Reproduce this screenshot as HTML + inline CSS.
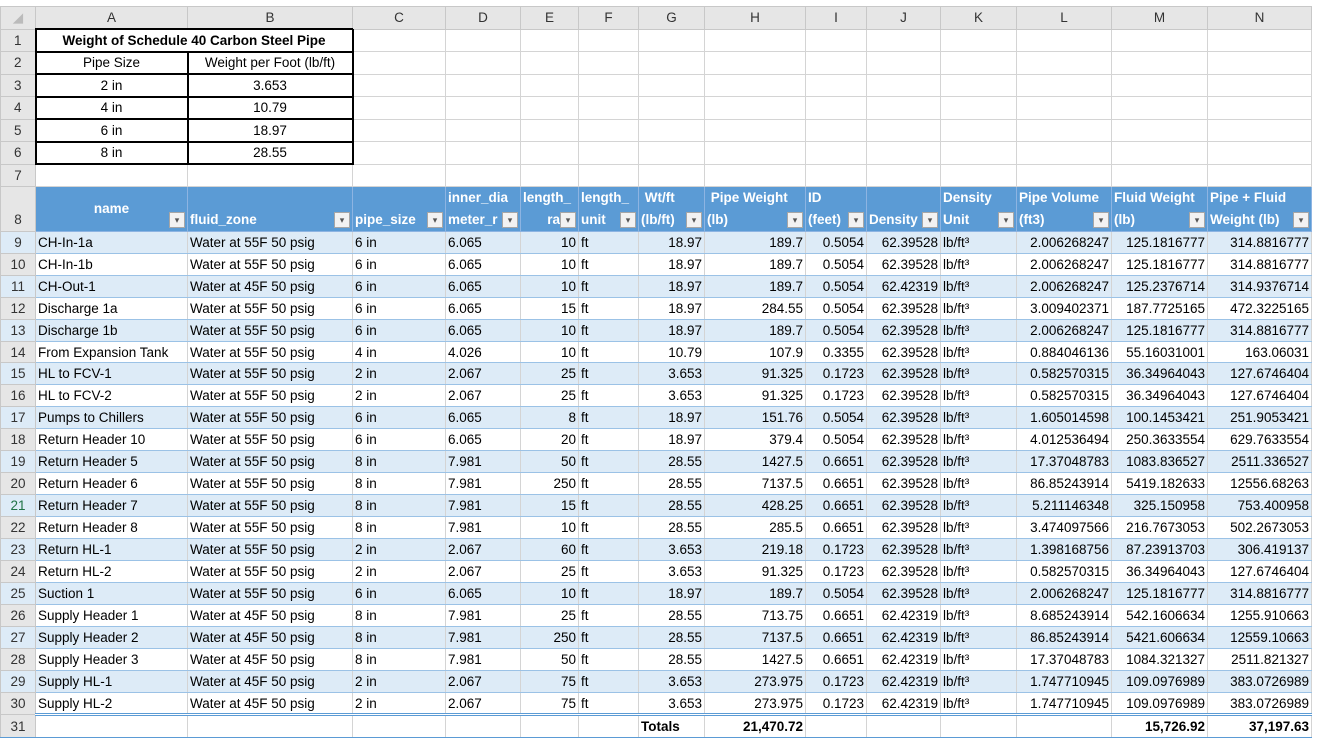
<!DOCTYPE html>
<html><head><meta charset="utf-8"><style>
body{margin:0;background:#fff;width:1317px;height:745px;overflow:hidden;font-family:"Liberation Sans",sans-serif;font-size:13.5px;color:#000}
table{border-collapse:collapse;table-layout:fixed;position:absolute;left:0;top:6px}
td{padding:0 2px;height:20.85px;border:1px solid #d4d4d4;white-space:nowrap;overflow:hidden;position:relative}
tr.d td,tr.tot td{height:20.94px}
tr.h td{background:#e6e6e6;color:#333;text-align:center;height:21px;border-color:#c8c8c8}
td.rn{background:#e6e6e6;color:#333;text-align:center;border-color:#c8c8c8}
.t td.k{border:2px solid #000;text-align:center}
tr.t td{height:20.5px}
tr.b td{background:#ddebf7}
tr.d td{border-bottom:1px solid #9bc2e6;border-top:1px solid #9bc2e6}
tr.d td.rn{border-color:#c8c8c8}
.r{text-align:right}
tr.hd td{background:#5b9bd5;color:#fff;font-weight:bold;height:44px;vertical-align:bottom;line-height:22px;border-color:#8db4e2}
tr.hd td.rn{background:#e6e6e6;color:#333;font-weight:normal;border-color:#c8c8c8}
.f{position:absolute;right:2px;bottom:3px;width:14px;height:14px;background:#f2f2f2;border:1px solid #a6a6a6;color:#555;font-size:9px;line-height:14px;text-align:center;font-weight:normal}
tr.tot td{font-weight:bold;border-top:3px double #5b9bd5;border-bottom:1px solid #5b9bd5}
tr.tot td.rn{font-weight:normal;border-top:1px solid #c8c8c8}
</style></head><body>
<table>
<colgroup><col style="width:35px"><col style="width:152px"><col style="width:165px"><col style="width:93px"><col style="width:75px"><col style="width:58px"><col style="width:60px"><col style="width:66px"><col style="width:101px"><col style="width:61px"><col style="width:74px"><col style="width:76px"><col style="width:95px"><col style="width:96px"><col style="width:104px"></colgroup>
<tr class="h"><td style="color:#bbb">◢</td><td>A</td><td>B</td><td>C</td><td>D</td><td>E</td><td>F</td><td>G</td><td>H</td><td>I</td><td>J</td><td>K</td><td>L</td><td>M</td><td>N</td></tr>
<tr class="t"><td class="rn">1</td><td class="k" colspan="2" style="font-weight:bold">Weight of Schedule 40 Carbon Steel Pipe</td><td></td><td></td><td></td><td></td><td></td><td></td><td></td><td></td><td></td><td></td><td></td><td></td></tr>
<tr class="t"><td class="rn">2</td><td class="k">Pipe Size</td><td class="k">Weight per Foot (lb/ft)</td><td></td><td></td><td></td><td></td><td></td><td></td><td></td><td></td><td></td><td></td><td></td><td></td></tr>
<tr class="t"><td class="rn">3</td><td class="k">2 in</td><td class="k">3.653</td><td></td><td></td><td></td><td></td><td></td><td></td><td></td><td></td><td></td><td></td><td></td><td></td></tr>
<tr class="t"><td class="rn">4</td><td class="k">4 in</td><td class="k">10.79</td><td></td><td></td><td></td><td></td><td></td><td></td><td></td><td></td><td></td><td></td><td></td><td></td></tr>
<tr class="t"><td class="rn">5</td><td class="k">6 in</td><td class="k">18.97</td><td></td><td></td><td></td><td></td><td></td><td></td><td></td><td></td><td></td><td></td><td></td><td></td></tr>
<tr class="t"><td class="rn">6</td><td class="k">8 in</td><td class="k">28.55</td><td></td><td></td><td></td><td></td><td></td><td></td><td></td><td></td><td></td><td></td><td></td><td></td></tr>
<tr><td class="rn">7</td><td></td><td></td><td></td><td></td><td></td><td></td><td></td><td></td><td></td><td></td><td></td><td></td><td></td><td></td></tr>
<tr class="hd"><td class="rn">8</td>
<td style="text-align:center;vertical-align:middle">name<span class="f">▾</span></td>
<td>fluid_zone<span class="f">▾</span></td>
<td>pipe_size<span class="f">▾</span></td>
<td>inner_dia<br>meter_r<span class="f">▾</span></td>
<td>length_<br><span style="display:block;text-align:right;padding-right:16px">ra</span><span class="f">▾</span></td>
<td>length_<br>unit<span class="f">▾</span></td>
<td>&nbsp;Wt/ft<br>(lb/ft)<span class="f">▾</span></td>
<td>&nbsp;Pipe Weight<br>(lb)<span class="f">▾</span></td>
<td>ID<br>(feet)<span class="f">▾</span></td>
<td><br>Density<span class="f">▾</span></td>
<td>Density<br>Unit<span class="f">▾</span></td>
<td>Pipe Volume<br>(ft3)<span class="f">▾</span></td>
<td>Fluid Weight<br>(lb)<span class="f">▾</span></td>
<td>Pipe + Fluid<br>Weight (lb)<span class="f">▾</span></td></tr>
<tr class="d b"><td class="rn">9</td><td>CH-In-1a</td><td>Water at 55F 50 psig</td><td>6 in</td><td>6.065</td><td class="r">10</td><td>ft</td><td class="r">18.97</td><td class="r">189.7</td><td class="r">0.5054</td><td class="r">62.39528</td><td>lb/ft³</td><td class="r">2.006268247</td><td class="r">125.1816777</td><td class="r">314.8816777</td></tr>
<tr class="d"><td class="rn">10</td><td>CH-In-1b</td><td>Water at 55F 50 psig</td><td>6 in</td><td>6.065</td><td class="r">10</td><td>ft</td><td class="r">18.97</td><td class="r">189.7</td><td class="r">0.5054</td><td class="r">62.39528</td><td>lb/ft³</td><td class="r">2.006268247</td><td class="r">125.1816777</td><td class="r">314.8816777</td></tr>
<tr class="d b"><td class="rn">11</td><td>CH-Out-1</td><td>Water at 45F 50 psig</td><td>6 in</td><td>6.065</td><td class="r">10</td><td>ft</td><td class="r">18.97</td><td class="r">189.7</td><td class="r">0.5054</td><td class="r">62.42319</td><td>lb/ft³</td><td class="r">2.006268247</td><td class="r">125.2376714</td><td class="r">314.9376714</td></tr>
<tr class="d"><td class="rn">12</td><td>Discharge 1a</td><td>Water at 55F 50 psig</td><td>6 in</td><td>6.065</td><td class="r">15</td><td>ft</td><td class="r">18.97</td><td class="r">284.55</td><td class="r">0.5054</td><td class="r">62.39528</td><td>lb/ft³</td><td class="r">3.009402371</td><td class="r">187.7725165</td><td class="r">472.3225165</td></tr>
<tr class="d b"><td class="rn">13</td><td>Discharge 1b</td><td>Water at 55F 50 psig</td><td>6 in</td><td>6.065</td><td class="r">10</td><td>ft</td><td class="r">18.97</td><td class="r">189.7</td><td class="r">0.5054</td><td class="r">62.39528</td><td>lb/ft³</td><td class="r">2.006268247</td><td class="r">125.1816777</td><td class="r">314.8816777</td></tr>
<tr class="d"><td class="rn">14</td><td>From Expansion Tank</td><td>Water at 55F 50 psig</td><td>4 in</td><td>4.026</td><td class="r">10</td><td>ft</td><td class="r">10.79</td><td class="r">107.9</td><td class="r">0.3355</td><td class="r">62.39528</td><td>lb/ft³</td><td class="r">0.884046136</td><td class="r">55.16031001</td><td class="r">163.06031</td></tr>
<tr class="d b"><td class="rn">15</td><td>HL to FCV-1</td><td>Water at 55F 50 psig</td><td>2 in</td><td>2.067</td><td class="r">25</td><td>ft</td><td class="r">3.653</td><td class="r">91.325</td><td class="r">0.1723</td><td class="r">62.39528</td><td>lb/ft³</td><td class="r">0.582570315</td><td class="r">36.34964043</td><td class="r">127.6746404</td></tr>
<tr class="d"><td class="rn">16</td><td>HL to FCV-2</td><td>Water at 55F 50 psig</td><td>2 in</td><td>2.067</td><td class="r">25</td><td>ft</td><td class="r">3.653</td><td class="r">91.325</td><td class="r">0.1723</td><td class="r">62.39528</td><td>lb/ft³</td><td class="r">0.582570315</td><td class="r">36.34964043</td><td class="r">127.6746404</td></tr>
<tr class="d b"><td class="rn">17</td><td>Pumps to Chillers</td><td>Water at 55F 50 psig</td><td>6 in</td><td>6.065</td><td class="r">8</td><td>ft</td><td class="r">18.97</td><td class="r">151.76</td><td class="r">0.5054</td><td class="r">62.39528</td><td>lb/ft³</td><td class="r">1.605014598</td><td class="r">100.1453421</td><td class="r">251.9053421</td></tr>
<tr class="d"><td class="rn">18</td><td>Return Header 10</td><td>Water at 55F 50 psig</td><td>6 in</td><td>6.065</td><td class="r">20</td><td>ft</td><td class="r">18.97</td><td class="r">379.4</td><td class="r">0.5054</td><td class="r">62.39528</td><td>lb/ft³</td><td class="r">4.012536494</td><td class="r">250.3633554</td><td class="r">629.7633554</td></tr>
<tr class="d b"><td class="rn">19</td><td>Return Header 5</td><td>Water at 55F 50 psig</td><td>8 in</td><td>7.981</td><td class="r">50</td><td>ft</td><td class="r">28.55</td><td class="r">1427.5</td><td class="r">0.6651</td><td class="r">62.39528</td><td>lb/ft³</td><td class="r">17.37048783</td><td class="r">1083.836527</td><td class="r">2511.336527</td></tr>
<tr class="d"><td class="rn">20</td><td>Return Header 6</td><td>Water at 55F 50 psig</td><td>8 in</td><td>7.981</td><td class="r">250</td><td>ft</td><td class="r">28.55</td><td class="r">7137.5</td><td class="r">0.6651</td><td class="r">62.39528</td><td>lb/ft³</td><td class="r">86.85243914</td><td class="r">5419.182633</td><td class="r">12556.68263</td></tr>
<tr class="d b"><td class="rn" style="color:#217346">21</td><td>Return Header 7</td><td>Water at 55F 50 psig</td><td>8 in</td><td>7.981</td><td class="r">15</td><td>ft</td><td class="r">28.55</td><td class="r">428.25</td><td class="r">0.6651</td><td class="r">62.39528</td><td>lb/ft³</td><td class="r">5.211146348</td><td class="r">325.150958</td><td class="r">753.400958</td></tr>
<tr class="d"><td class="rn">22</td><td>Return Header 8</td><td>Water at 55F 50 psig</td><td>8 in</td><td>7.981</td><td class="r">10</td><td>ft</td><td class="r">28.55</td><td class="r">285.5</td><td class="r">0.6651</td><td class="r">62.39528</td><td>lb/ft³</td><td class="r">3.474097566</td><td class="r">216.7673053</td><td class="r">502.2673053</td></tr>
<tr class="d b"><td class="rn">23</td><td>Return HL-1</td><td>Water at 55F 50 psig</td><td>2 in</td><td>2.067</td><td class="r">60</td><td>ft</td><td class="r">3.653</td><td class="r">219.18</td><td class="r">0.1723</td><td class="r">62.39528</td><td>lb/ft³</td><td class="r">1.398168756</td><td class="r">87.23913703</td><td class="r">306.419137</td></tr>
<tr class="d"><td class="rn">24</td><td>Return HL-2</td><td>Water at 55F 50 psig</td><td>2 in</td><td>2.067</td><td class="r">25</td><td>ft</td><td class="r">3.653</td><td class="r">91.325</td><td class="r">0.1723</td><td class="r">62.39528</td><td>lb/ft³</td><td class="r">0.582570315</td><td class="r">36.34964043</td><td class="r">127.6746404</td></tr>
<tr class="d b"><td class="rn">25</td><td>Suction 1</td><td>Water at 55F 50 psig</td><td>6 in</td><td>6.065</td><td class="r">10</td><td>ft</td><td class="r">18.97</td><td class="r">189.7</td><td class="r">0.5054</td><td class="r">62.39528</td><td>lb/ft³</td><td class="r">2.006268247</td><td class="r">125.1816777</td><td class="r">314.8816777</td></tr>
<tr class="d"><td class="rn">26</td><td>Supply Header 1</td><td>Water at 45F 50 psig</td><td>8 in</td><td>7.981</td><td class="r">25</td><td>ft</td><td class="r">28.55</td><td class="r">713.75</td><td class="r">0.6651</td><td class="r">62.42319</td><td>lb/ft³</td><td class="r">8.685243914</td><td class="r">542.1606634</td><td class="r">1255.910663</td></tr>
<tr class="d b"><td class="rn">27</td><td>Supply Header 2</td><td>Water at 45F 50 psig</td><td>8 in</td><td>7.981</td><td class="r">250</td><td>ft</td><td class="r">28.55</td><td class="r">7137.5</td><td class="r">0.6651</td><td class="r">62.42319</td><td>lb/ft³</td><td class="r">86.85243914</td><td class="r">5421.606634</td><td class="r">12559.10663</td></tr>
<tr class="d"><td class="rn">28</td><td>Supply Header 3</td><td>Water at 45F 50 psig</td><td>8 in</td><td>7.981</td><td class="r">50</td><td>ft</td><td class="r">28.55</td><td class="r">1427.5</td><td class="r">0.6651</td><td class="r">62.42319</td><td>lb/ft³</td><td class="r">17.37048783</td><td class="r">1084.321327</td><td class="r">2511.821327</td></tr>
<tr class="d b"><td class="rn">29</td><td>Supply HL-1</td><td>Water at 45F 50 psig</td><td>2 in</td><td>2.067</td><td class="r">75</td><td>ft</td><td class="r">3.653</td><td class="r">273.975</td><td class="r">0.1723</td><td class="r">62.42319</td><td>lb/ft³</td><td class="r">1.747710945</td><td class="r">109.0976989</td><td class="r">383.0726989</td></tr>
<tr class="d"><td class="rn">30</td><td>Supply HL-2</td><td>Water at 45F 50 psig</td><td>2 in</td><td>2.067</td><td class="r">75</td><td>ft</td><td class="r">3.653</td><td class="r">273.975</td><td class="r">0.1723</td><td class="r">62.42319</td><td>lb/ft³</td><td class="r">1.747710945</td><td class="r">109.0976989</td><td class="r">383.0726989</td></tr>
<tr class="tot"><td class="rn">31</td><td></td><td></td><td></td><td></td><td></td><td></td><td>Totals</td><td class="r">21,470.72</td><td></td><td></td><td></td><td></td><td class="r">15,726.92</td><td class="r">37,197.63</td></tr>
</table>
</body></html>
